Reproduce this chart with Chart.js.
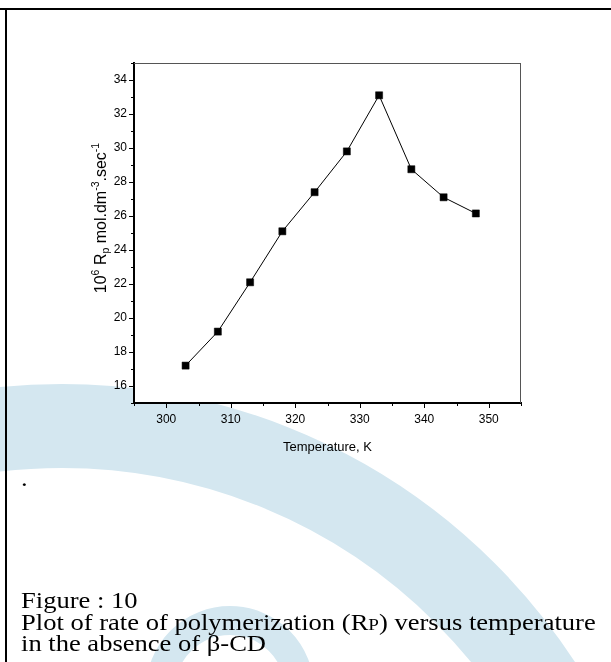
<!DOCTYPE html>
<html><head><meta charset="utf-8">
<script src="https://cdn.jsdelivr.net/npm/chart.js@4/dist/chart.umd.min.js"></script>
<style>
html,body{margin:0;padding:0;background:#fff;}
body{width:611px;height:662px;position:relative;overflow:hidden;}
#wm{position:absolute;left:0;top:0;}
#frameTop{position:absolute;left:0;top:8px;width:611px;height:2px;background:#000;}
#frameLeft{position:absolute;left:5px;top:8px;width:2px;height:654px;background:#000;}
#chartBox{position:absolute;left:0;top:0;width:611px;height:662px;}
.cap{position:absolute;left:21px;font-family:"Liberation Serif","Times New Roman",serif;font-size:23.5px;line-height:22px;color:#000;white-space:nowrap;transform:scaleX(1.13);transform-origin:0 0;}
.small{font-size:72%;}
</style></head>
<body>
<svg id="wm" width="611" height="662">
<circle cx="62" cy="996" r="570" fill="none" stroke="#d4e7f0" stroke-width="84"/>
<circle cx="230" cy="690" r="69.5" fill="none" stroke="#d4e7f0" stroke-width="29"/>
</svg>
<div id="frameTop"></div>
<div id="frameLeft"></div>
<div id="chartBox"><canvas id="c" width="611" height="662"></canvas></div>
<div class="cap" style="top:467px;">.</div>
<div class="cap" style="top:589px;">Figure : 10</div>
<div class="cap" style="top:611px;">Plot of rate of polymerization (R<span class="small">P</span>) versus temperature</div>
<div class="cap" style="top:632px;">in the absence of β-CD</div>
<script>
const temperatures = [303, 308, 313, 318, 323, 328, 333, 338, 343, 348];
const rateValues = [17.2, 19.2, 22.1, 25.1, 27.4, 29.8, 33.1, 28.75, 27.1, 26.15];
const xTickValues = [300, 310, 320, 330, 340, 350];
const xMinorValues = [295, 305, 315, 325, 335, 345, 355];
const yTickValues = [16, 18, 20, 22, 24, 26, 28, 30, 32, 34];
const yMinorValues = [15, 17, 19, 21, 23, 25, 27, 29, 31, 33, 35];
const xTitle = 'Temperature, K';
const yTitleParts = [['10','n'],['6','sup'],[' R','n'],['p','sub'],[' mol.dm','n'],['-3','sup'],['.sec','n'],['-1','sup']];

const FONT = '"Liberation Sans", Arial, sans-serif';

const framePlugin = {
  id: 'framePlugin',
  beforeDraw(chart) {
    const {ctx, chartArea: a} = chart;
    ctx.save();
    ctx.fillStyle = '#fff';
    ctx.fillRect(a.left, a.top, a.right - a.left, a.bottom - a.top);
    ctx.restore();
  },
  afterDraw(chart) {
    const {ctx, chartArea: a} = chart;
    const xs = chart.scales.x, ys = chart.scales.y;
    ctx.save();
    ctx.strokeStyle = '#555';
    ctx.lineWidth = 1;
    ctx.beginPath();
    ctx.moveTo(a.left, a.top + 0.5); ctx.lineTo(a.right, a.top + 0.5);
    ctx.moveTo(a.right - 0.5, a.top); ctx.lineTo(a.right - 0.5, a.bottom);
    ctx.stroke();
    ctx.strokeStyle = '#000';
    ctx.lineWidth = 1;
    ctx.beginPath();
    yTickValues.forEach(v => { const y = Math.round(ys.getPixelForValue(v)) + 0.5; ctx.moveTo(a.left - 5, y); ctx.lineTo(a.left, y); });
    yMinorValues.forEach(v => { const y = Math.round(ys.getPixelForValue(v)) + 0.5; ctx.moveTo(a.left - 3, y); ctx.lineTo(a.left, y); });
    xTickValues.forEach(v => { const x = Math.round(xs.getPixelForValue(v)) + 0.5; ctx.moveTo(x, a.bottom); ctx.lineTo(x, a.bottom + 5); });
    xMinorValues.forEach(v => { const x = Math.round(xs.getPixelForValue(v)) + 0.5; ctx.moveTo(x, a.bottom); ctx.lineTo(x, a.bottom + 3); });
    ctx.stroke();
    const big = '16px ' + FONT, sm = '10.5px ' + FONT;
    let total = 0;
    yTitleParts.forEach(p => { ctx.font = p[1] === 'n' ? big : sm; total += ctx.measureText(p[0]).width; });
    ctx.translate(106, 218);
    ctx.rotate(-Math.PI / 2);
    ctx.fillStyle = '#000';
    ctx.textBaseline = 'alphabetic';
    let x = -total / 2;
    yTitleParts.forEach(p => {
      ctx.font = p[1] === 'n' ? big : sm;
      const dy = p[1] === 'sup' ? -7 : (p[1] === 'sub' ? 3 : 0);
      ctx.fillText(p[0], x, dy);
      x += ctx.measureText(p[0]).width;
    });
    ctx.restore();
  }
};

new Chart(document.getElementById('c'), {
  type: 'line',
  data: {
    datasets: [{
      data: temperatures.map((t, i) => ({x: t, y: rateValues[i]})),
      borderColor: '#000',
      borderWidth: 1,
      pointStyle: 'rect',
      pointRadius: 5,
      pointBackgroundColor: '#000',
      pointBorderColor: '#000',
      pointBorderWidth: 0.5,
      tension: 0
    }]
  },
  options: {
    responsive: false,
    animation: false,
    events: [],
    layout: {padding: {left: 0, top: 63, right: 90, bottom: 207}},
    plugins: {legend: {display: false}, tooltip: {enabled: false}},
    scales: {
      x: {
        type: 'linear', min: 295, max: 355,
        afterBuildTicks: s => { s.ticks = xTickValues.map(v => ({value: v})); },
        afterFit: s => { s.height = 52; },
        grid: {display: false, drawTicks: false},
        border: {display: true, color: '#000', width: 2},
        ticks: {padding: 9, color: '#000', font: {family: FONT, size: 12}, maxRotation: 0, autoSkip: false},
        title: {display: true, text: xTitle, color: '#000', font: {family: FONT, size: 13}, padding: 0}
      },
      y: {
        type: 'linear', min: 15, max: 35,
        afterBuildTicks: s => { s.ticks = yTickValues.map(v => ({value: v})); },
        afterFit: s => { s.width = 134; },
        grid: {display: false, drawTicks: false},
        border: {display: true, color: '#000', width: 2},
        ticks: {padding: 7, color: '#000', font: {family: FONT, size: 12}, autoSkip: false}
      }
    }
  },
  plugins: [framePlugin]
});
</script>
</body></html>
